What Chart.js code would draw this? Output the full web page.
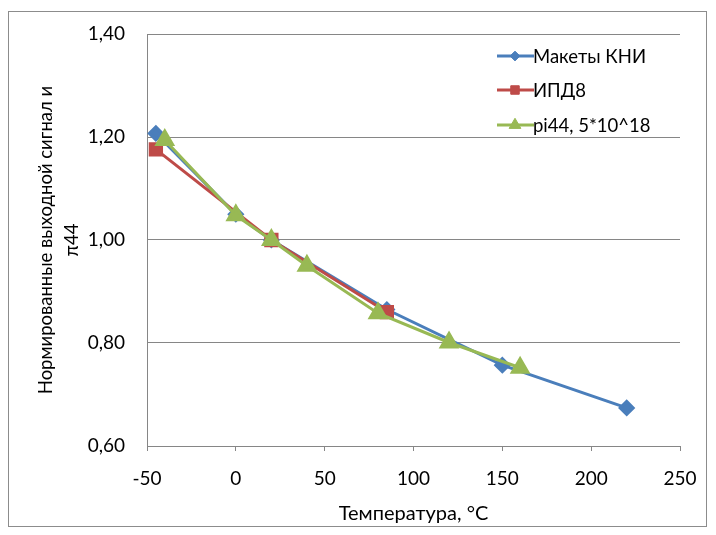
<!DOCTYPE html>
<html>
<head>
<meta charset="utf-8">
<script src="https://cdn.jsdelivr.net/npm/chart.js@4/dist/chart.umd.min.js"></script>
<style>
    html, body { margin: 0; padding: 0; background: #fff; }
    #wrap { position: relative; width: 716px; height: 535px; }
    #frame { position: absolute; left: 8px; top: 11px; width: 699px; height: 516px; border: 1px solid #8c8c8c; box-sizing: border-box; pointer-events: none; }
</style>
</head>
<body>
<div id="wrap">
    <canvas id="chart" width="716" height="535"></canvas>
    <div id="frame"></div>
</div>
<script>
// Series data (temperature, normalized output)
const kniTemp = [-45, 0, 20, 85, 150, 220]
const kniValue = [1.207, 1.05, 1.0, 0.865, 0.757, 0.674]

const ipdTemp = [-45, 20, 85]
const ipdValue = [1.176, 1.0, 0.86]

const pi44Temp = [-40, 0, 20, 40, 80, 120, 160]
const pi44Value = [1.194, 1.048, 1.0, 0.95, 0.858, 0.801, 0.752]

const seriesNames = ['Макеты КНИ', 'ИПД8', 'pi44, 5*10^18']
const xTicks = [-50, 0, 50, 100, 150, 200, 250]
const yTicks = [0.6, 0.8, 1.0, 1.2, 1.4]

const FONT = 'Lato, "Liberation Sans", sans-serif'
const GRID = '#868686'

const toPoints = (xs, ys) => xs.map((x, i) => ({ x: x, y: ys[i] }))

// Legend drawn inside the plot, top right
const legendPlugin = {
    id: 'insideLegend',
    afterDraw(chart) {
        const ctx = chart.ctx
        const x0 = 497
        const rows = [56, 90, 125]
        ctx.save()
        ctx.font = '18.5px ' + FONT
        ctx.textBaseline = 'middle'
        chart.data.datasets.forEach((ds, i) => {
            const y = rows[i]
            ctx.strokeStyle = ds.borderColor
            ctx.lineWidth = 3
            ctx.beginPath()
            ctx.moveTo(x0, y)
            ctx.lineTo(x0 + 37, y)
            ctx.stroke()
            ctx.fillStyle = ds.pointBackgroundColor
            ctx.strokeStyle = ds.pointBackgroundColor
            ctx.lineWidth = 1
            Chart.helpers.drawPoint(ctx, {
                pointStyle: ds.pointStyle,
                radius: ds.pointRadius * 0.75,
                rotation: 0,
                borderWidth: 1
            }, x0 + 18, y)
            ctx.fillStyle = '#000'
            ctx.fillText(ds.label, x0 + 36, y + 1)
        })
        ctx.restore()
    }
}

new Chart(document.getElementById('chart'), {
    type: 'line',
    data: {
        datasets: [
            {
                label: seriesNames[0],
                data: toPoints(kniTemp, kniValue),
                borderColor: '#4a7ebb',
                pointBackgroundColor: '#4a7ebb',
                pointBorderColor: '#4a7ebb',
                pointStyle: 'rectRot',
                pointRadius: 6.5,
                borderWidth: 3,
                order: 3
            },
            {
                label: seriesNames[1],
                data: toPoints(ipdTemp, ipdValue),
                borderColor: '#be4b48',
                pointBackgroundColor: '#be4b48',
                pointBorderColor: '#be4b48',
                pointStyle: 'rect',
                pointRadius: 8,
                borderWidth: 3,
                order: 2
            },
            {
                label: seriesNames[2],
                data: toPoints(pi44Temp, pi44Value),
                borderColor: '#98b954',
                pointBackgroundColor: '#98b954',
                pointBorderColor: '#98b954',
                pointStyle: 'triangle',
                pointRadius: 9,
                borderWidth: 3,
                order: 1
            }
        ]
    },
    options: {
        responsive: false,
        animation: false,
        layout: { padding: { top: 34, right: 36, left: 0, bottom: 0 } },
        plugins: {
            legend: { display: false },
            tooltip: { enabled: false }
        },
        scales: {
            x: {
                type: 'linear',
                min: -50,
                max: 250,
                afterBuildTicks: scale => { scale.ticks = xTicks.map(v => ({ value: v })) },
                afterFit: scale => { scale.height = 89 },
                grid: { drawOnChartArea: false, color: GRID, tickLength: 5 },
                border: { color: GRID },
                ticks: { color: '#000', font: { family: FONT, size: 19 }, padding: 16 },
                title: {
                    display: true,
                    text: 'Температура, °C',
                    color: '#000',
                    font: { family: FONT, size: 20 },
                    padding: { top: 2, bottom: 9 }
                }
            },
            y: {
                min: 0.6,
                max: 1.4,
                afterBuildTicks: scale => { scale.ticks = yTicks.map(v => ({ value: v })) },
                afterFit: scale => { scale.width = 147 },
                grid: { color: GRID, drawTicks: false },
                border: { color: GRID },
                ticks: {
                    color: '#000',
                    font: { family: FONT, size: 19 },
                    padding: 22,
                    callback: v => v.toFixed(2).replace('.', ',')
                },
                title: {
                    display: true,
                    text: ['Нормированные выходной сигнал и', 'π44'],
                    color: '#000',
                    font: { family: FONT, size: 18.5, lineHeight: 1.4 },
                    padding: { top: 33 }
                }
            }
        }
    },
    plugins: [legendPlugin]
})
</script>
</body>
</html>
